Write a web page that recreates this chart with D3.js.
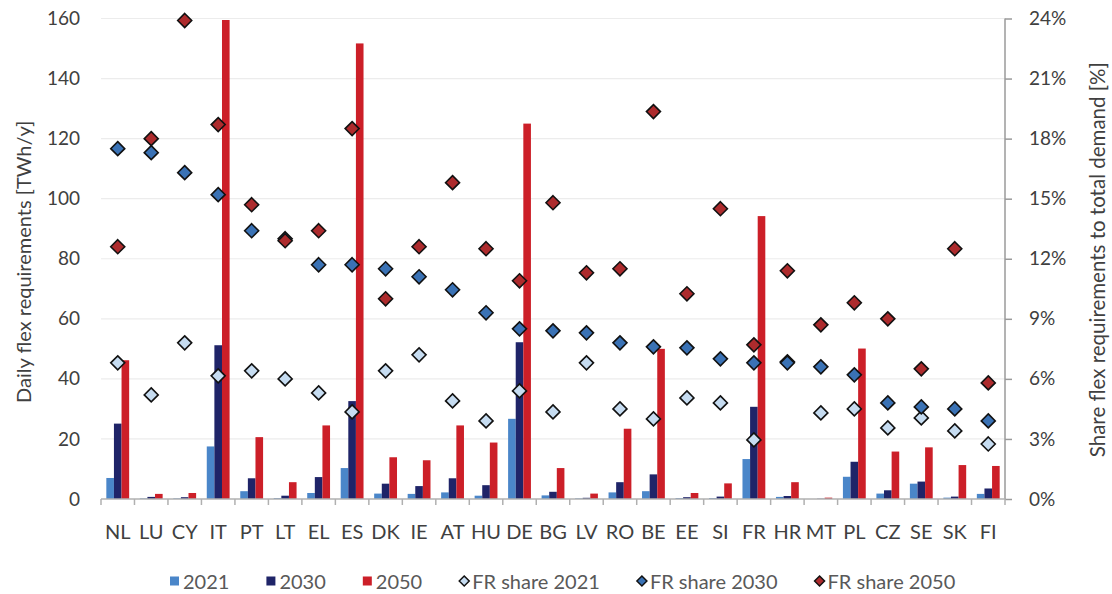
<!DOCTYPE html>
<html>
<head>
<meta charset="utf-8">
<script src="https://cdn.jsdelivr.net/npm/d3@7"></script>
<style>
  html, body { margin: 0; padding: 0; background: #fff; }
  svg { display: block; font-family: Lato, "Open Sans", sans-serif; }
</style>
</head>
<body>
<svg id="chart" width="1112" height="594"></svg>
<script>
// Member states, ordered by share of flex requirements in 2030
const categories = ["NL","LU","CY","IT","PT","LT","EL","ES","DK","IE","AT","HU","DE","BG","LV","RO","BE","EE","SI","FR","HR","MT","PL","CZ","SE","SK","FI"];

// Daily flex requirements [TWh/y]
const flex2021 = [7.0, 0.2, 0.2, 17.5, 2.6, 0.3, 2.0, 10.3, 1.8, 1.7, 2.2, 1.1, 26.7, 1.2, 0.2, 2.2, 2.6, 0.3, 0.3, 13.3, 0.7, 0.0, 7.4, 1.8, 5.1, 0.45, 1.7];
const flex2030 = [25.1, 0.7, 0.6, 51.2, 6.9, 1.1, 7.3, 32.6, 5.1, 4.3, 6.9, 4.6, 52.2, 2.4, 0.4, 5.6, 8.2, 0.6, 0.8, 30.7, 1.0, 0.1, 12.4, 2.9, 5.8, 0.8, 3.5];
const flex2050 = [46.2, 1.7, 2.0, 159.5, 20.6, 5.6, 24.5, 151.7, 13.9, 12.9, 24.5, 18.8, 125.0, 10.3, 1.8, 23.4, 50.0, 2.0, 5.2, 94.2, 5.6, 0.45, 50.1, 15.8, 17.2, 11.3, 11.0];

// Share of flex requirements in total demand [%]
const share2021 = [6.8, 5.2, 7.8, 6.15, 6.4, 6.0, 5.3, 4.35, 6.4, 7.2, 4.9, 3.9, 5.4, 4.35, 6.8, 4.5, 4.0, 5.05, 4.8, 2.95, 6.85, 4.3, 4.5, 3.55, 4.05, 3.4, 2.75];
const share2030 = [17.5, 17.3, 16.3, 15.2, 13.4, 13.0, 11.7, 11.7, 11.5, 11.1, 10.45, 9.3, 8.5, 8.4, 8.3, 7.8, 7.6, 7.55, 7.0, 6.8, 6.8, 6.6, 6.2, 4.8, 4.6, 4.5, 3.9];
const share2050 = [12.6, 18.0, 23.9, 18.7, 14.7, 12.9, 13.4, 18.5, 10.0, 12.6, 15.8, 12.5, 10.9, 14.8, 11.3, 11.5, 19.35, 10.25, 14.5, 7.7, 11.4, 8.7, 9.8, 9.0, 6.5, 12.5, 5.8];

const leftTicks = [0, 20, 40, 60, 80, 100, 120, 140, 160];
const rightTicks = [0, 3, 6, 9, 12, 15, 18, 21, 24];

const barSeries = [
  { name: "2021", values: flex2021, color: "#4a86c9" },
  { name: "2030", values: flex2030, color: "#1f2468" },
  { name: "2050", values: flex2050, color: "#cc1f28" }
];
const shareSeries = [
  { name: "FR share 2021", values: share2021, color: "#c6dcf1" },
  { name: "FR share 2030", values: share2030, color: "#3a72b5" },
  { name: "FR share 2050", values: share2050, color: "#ad2b2d" }
];

const svg = d3.select("#chart");
const plotLeft = 101, plotRight = 1005, plotTop = 18.5, plotBottom = 499;

const x = d3.scaleBand().domain(categories).range([plotLeft, plotRight]).paddingInner(0).paddingOuter(0);
const x1 = d3.scaleBand().domain(barSeries.map(s => s.name)).range([0, x.bandwidth()]).paddingOuter(0.7).paddingInner(0);
const y = d3.scaleLinear().domain([0, 160]).range([plotBottom, plotTop]);
const yR = d3.scaleLinear().domain([0, 24]).range([plotBottom, plotTop]);

const textColor = "#404040";

// Horizontal gridlines
svg.append("g")
  .selectAll("line")
  .data(leftTicks.slice(1))
  .join("line")
  .attr("x1", plotLeft).attr("x2", plotRight)
  .attr("y1", d => y(d)).attr("y2", d => y(d))
  .attr("stroke", "#ececec").attr("stroke-width", 1.2);

// Left axis labels (no axis line)
const yAxis = d3.axisLeft(y).tickValues(leftTicks).tickSize(0).tickPadding(0);
const gy = svg.append("g").attr("transform", `translate(${plotLeft - 21},0)`).call(yAxis);
gy.select(".domain").remove();
gy.selectAll("text").attr("font-size", 19).attr("fill", textColor).attr("font-family", "Lato, sans-serif");

// Right axis
const yAxisR = d3.axisRight(yR).tickValues(rightTicks).tickSize(7).tickPadding(17).tickFormat(d => d + "%");
const gyR = svg.append("g").attr("transform", `translate(${plotRight},0)`).call(yAxisR);
gyR.select(".domain").attr("stroke", "#9a9a9a").attr("stroke-width", 1.5).attr("d", `M0,${plotTop}V${plotBottom}`);
gyR.selectAll(".tick line").attr("stroke", "#9a9a9a").attr("stroke-width", 1.5);
gyR.selectAll("text").attr("font-size", 19).attr("fill", textColor).attr("font-family", "Lato, sans-serif");

// Bars
const groups = svg.append("g")
  .selectAll("g")
  .data(categories)
  .join("g")
  .attr("transform", d => `translate(${x(d)},0)`);

groups.selectAll("rect")
  .data((d, i) => barSeries.map(s => ({ key: s.name, value: s.values[i], color: s.color })))
  .join("rect")
  .attr("x", d => x1(d.key))
  .attr("width", x1.bandwidth())
  .attr("y", d => y(d.value))
  .attr("height", d => y(0) - y(d.value))
  .attr("fill", d => d.color);

// Bottom axis with ticks between categories
svg.append("line")
  .attr("x1", plotLeft).attr("x2", plotRight).attr("y1", plotBottom).attr("y2", plotBottom)
  .attr("stroke", "#b0b0b0").attr("stroke-width", 1.5);
svg.append("g")
  .selectAll("line")
  .data(d3.range(categories.length + 1))
  .join("line")
  .attr("x1", i => plotLeft + i * x.step()).attr("x2", i => plotLeft + i * x.step())
  .attr("y1", plotBottom).attr("y2", plotBottom + 6)
  .attr("stroke", "#b0b0b0").attr("stroke-width", 1.5);

svg.append("g")
  .selectAll("text")
  .data(categories)
  .join("text")
  .attr("x", d => x(d) + x.bandwidth() / 2)
  .attr("y", 531)
  .attr("text-anchor", "middle")
  .attr("dominant-baseline", "central")
  .attr("font-size", 20)
  .attr("fill", textColor)
  .text(d => d);

// Diamonds for the share series
const half = 7;
const diamondPath = `M0,${-half}L${half},0L0,${half}L${-half},0Z`;

shareSeries.forEach(s => {
  svg.append("g")
    .selectAll("path")
    .data(categories.map((c, i) => ({ c, v: s.values[i] })))
    .join("path")
    .attr("d", diamondPath)
    .attr("transform", d => `translate(${x(d.c) + x.bandwidth() / 2},${yR(d.v)})`)
    .attr("fill", s.color)
    .attr("stroke", "#111")
    .attr("stroke-width", 1.6);
});

// Axis titles
svg.append("text")
  .attr("transform", `translate(23,${(plotTop + plotBottom) / 2 + 3}) rotate(-90)`)
  .attr("text-anchor", "middle")
  .attr("dominant-baseline", "central")
  .attr("font-size", 20)
  .attr("fill", textColor)
  .text("Daily flex requirements [TWh/y]");

svg.append("text")
  .attr("transform", `translate(1097,${(plotTop + plotBottom) / 2 + 1}) rotate(-90)`)
  .attr("text-anchor", "middle")
  .attr("dominant-baseline", "central")
  .attr("font-size", 20.5)
  .attr("fill", textColor)
  .text("Share flex requirements to total demand [%]");

// Legend
const legendItems = [
  ...barSeries.map(s => ({ name: s.name, color: s.color, type: "square" })),
  ...shareSeries.map(s => ({ name: s.name, color: s.color, type: "diamond" }))
];
const legend = svg.append("g").attr("transform", "translate(0,581)");
let lx = 170;
legendItems.forEach(item => {
  const g = legend.append("g").attr("transform", `translate(${lx},0)`);
  if (item.type === "square") {
    g.append("rect").attr("x", 0).attr("y", -4.5).attr("width", 9).attr("height", 9).attr("fill", item.color);
  } else {
    g.append("path").attr("d", "M5,-5L10,0L5,5L0,0Z").attr("fill", item.color).attr("stroke", "#111").attr("stroke-width", 1.5);
  }
  const t = g.append("text")
    .attr("x", 13)
    .attr("y", 0)
    .attr("dominant-baseline", "central")
    .attr("font-size", 20)
    .attr("fill", "#595959")
    .text(item.name);
  const w = t.node().getComputedTextLength();
  lx += 13 + w + 37;
});
</script>
</body>
</html>
